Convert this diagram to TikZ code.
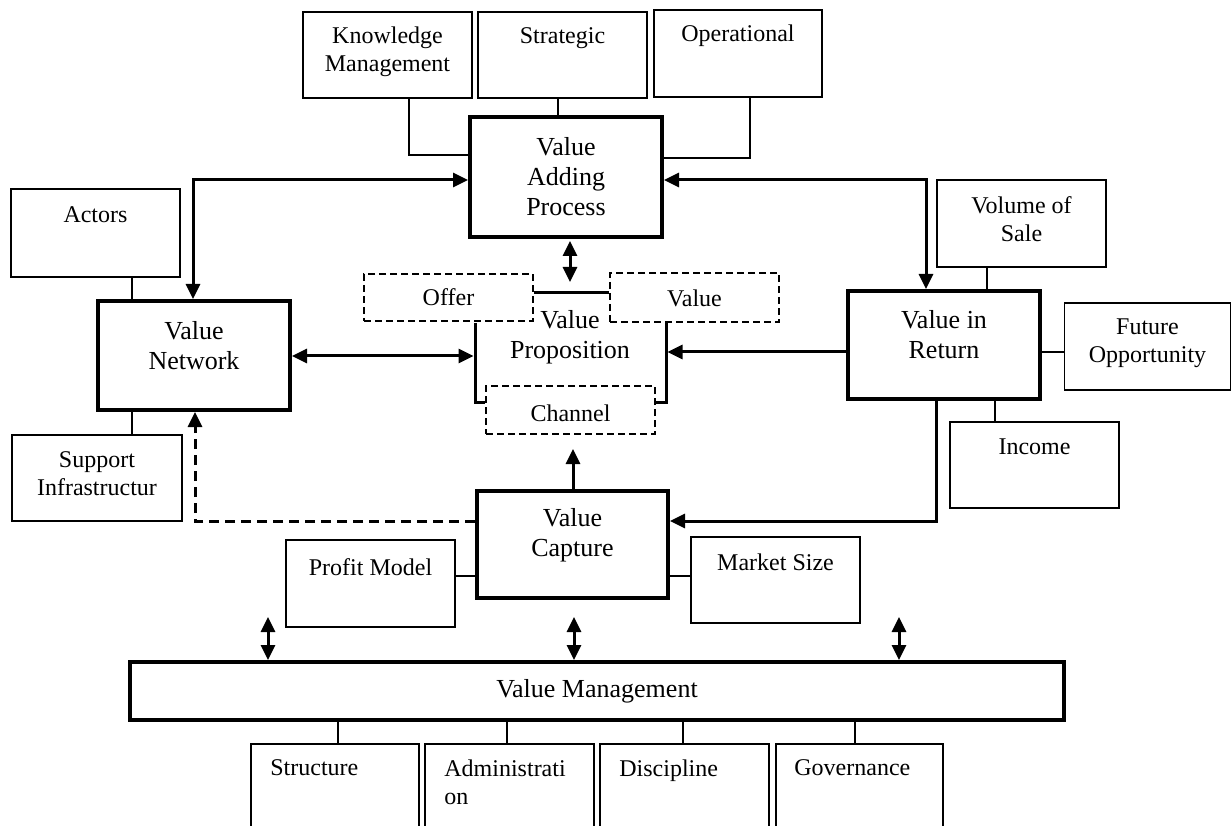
\documentclass[tikz,border=0pt]{standalone}
\usepackage{fontspec}
\setmainfont{Liberation Serif}
\usetikzlibrary{arrows.meta}
\begin{document}
\begin{tikzpicture}[x=1pt,y=-1pt,
  thinbox/.style={draw, line width=1.6pt, inner sep=0pt},
  thickbox/.style={draw, line width=4pt, inner sep=0pt},
  dbox/.style={draw, line width=1.5pt, dash pattern=on 7pt off 4pt, inner sep=0pt},
  conn/.style={line width=1.6pt},
  arr/.style={line width=3pt, -{Triangle[length=15pt,width=14pt]}},
  darr/.style={line width=3pt, {Triangle[length=15pt,width=14pt]}-{Triangle[length=15pt,width=14pt]}},
  sm/.style={font=\fontsize{24}{28}\selectfont, align=center, inner sep=0pt},
  bg/.style={font=\fontsize{26}{30}\selectfont, align=center, inner sep=0pt},
  lt/.style={font=\fontsize{24}{28}\selectfont, align=left, inner sep=0pt, anchor=north west},
]
\clip (0,0) rectangle (1232,826);
\fill[white] (0,0) rectangle (1232,826);

% top boxes
\node[thinbox, minimum width=169pt, minimum height=86pt, label={[sm,yshift=3pt]center:{Knowledge\\Management}}] (km) at (387.5,55) {};
\node[thinbox, minimum width=169pt, minimum height=86pt, label={[sm,yshift=17pt]center:{Strategic}}] (strat) at (562.5,55) {};
\node[thinbox, minimum width=168pt, minimum height=87pt, label={[sm,yshift=17.5pt]center:{Operational}}] (oper) at (738,53.5) {};
\node[thickbox, minimum width=192pt, minimum height=120pt, label={[bg,yshift=0pt]center:{Value\\Adding\\Process}}] (vap) at (566,177) {};

% left
\node[thinbox, minimum width=169pt, minimum height=88pt, label={[sm,yshift=18pt]center:{Actors}}] (actors) at (95.5,233) {};
\node[thickbox, minimum width=192pt, minimum height=109pt, label={[bg,yshift=9.5pt]center:{Value\\Network}}] (vn) at (194,355.5) {};
\node[thinbox, minimum width=170pt, minimum height=86pt, label={[sm,yshift=4pt]center:{Support\\Infrastructur}}] (supp) at (97,478) {};

% right
\node[thickbox, minimum width=192pt, minimum height=108pt, label={[bg,yshift=10pt]center:{Value in\\Return}}] (vir) at (944,345) {};
\node[thinbox, minimum width=169pt, minimum height=87pt, label={[sm,yshift=4.5pt]center:{Volume of\\Sale}}] (vol) at (1021.5,223.5) {};
\node[thinbox, minimum width=166pt, minimum height=87pt, label={[sm,yshift=3pt]center:{Future\\Opportunity}}] (fut) at (1147.5,346.5) {};
\node[thinbox, minimum width=169pt, minimum height=86pt, label={[sm,yshift=18pt]center:{Income}}] (inc) at (1034.5,465) {};

% value proposition
\node[dbox, minimum width=169pt, minimum height=47pt, label={[sm]center:{Offer}}] (offer) at (448.5,297.5) {};
\node[dbox, minimum width=169pt, minimum height=49pt, label={[sm,yshift=-1pt]center:{Value}}] (valbox) at (694.5,297.5) {};
\node[dbox, minimum width=169pt, minimum height=48pt, label={[sm,yshift=-3pt]center:{Channel}}] (chan) at (570.5,410) {};
\node[bg] (vp) at (570,337) {Value\\Proposition};
\draw[line width=3pt] (offer.east |- 0,293) -- (valbox.west |- 0,293);
\draw[line width=3pt] (475,323) -- (475,402) -- (chan.west |- 0,402);
\draw[line width=3pt] (666,323) -- (666,402) -- (chan.east |- 0,402);

% value capture
\node[thickbox, minimum width=191pt, minimum height=107pt, label={[bg,yshift=9pt]center:{Value\\Capture}}] (vc) at (572.5,544.5) {};
\node[thinbox, minimum width=169pt, minimum height=87pt, label={[sm,yshift=16.5pt]center:{Profit Model}}] (prof) at (370.5,583.5) {};
\node[thinbox, minimum width=169pt, minimum height=86pt, label={[sm,yshift=18pt]center:{Market Size}}] (mkt) at (775.5,580) {};

% value management
\node[thickbox, minimum width=934pt, minimum height=58pt, bg] (vm) at (597,691) {Value Management};
\node[thinbox, minimum width=168pt, minimum height=92pt] (st) at (335,790) {};
\node[thinbox, minimum width=169pt, minimum height=92pt] (ad) at (509.5,790) {};
\node[thinbox, minimum width=169pt, minimum height=92pt] (di) at (684.5,790) {};
\node[thinbox, minimum width=167pt, minimum height=92pt] (go) at (859.5,790) {};
\node[lt] at ([xshift=20pt,yshift=-16.5pt]st.north west) {Structure};
\node[lt] at ([xshift=20pt,yshift=-16.5pt]ad.north west) {Administrati\\on};
\node[lt] at ([xshift=20pt,yshift=-16.5pt]di.north west) {Discipline};
\node[lt] at ([xshift=19pt,yshift=-16.5pt]go.north west) {Governance};

% thin connectors
\draw[conn] ([xshift=21.5pt]km.south) |- ([yshift=22pt]vap.west);
\draw[conn] ([xshift=-4.5pt]strat.south) -- ([xshift=-4.5pt]strat.south |- vap.north);
\draw[conn] ([xshift=12pt]oper.south) |- ([yshift=19pt]vap.east);
\draw[conn] ([xshift=36.5pt]actors.south) -- ([xshift=36.5pt]actors.south |- vn.north);
\draw[conn] ([xshift=35pt]supp.north) -- ([xshift=35pt]supp.north |- vn.south);
\draw[conn] ([xshift=-34.5pt]vol.south) -- ([xshift=-34.5pt]vol.south |- vir.north);
\draw[conn] ([yshift=-5.5pt]fut.west) -- ([yshift=-5.5pt]fut.west -| vir.east);
\draw[conn] ([xshift=-39.5pt]inc.north) -- ([xshift=-39.5pt]inc.north |- vir.south);
\draw[conn] ([yshift=7.5pt]prof.east) -- ([yshift=7.5pt]prof.east -| vc.west);
\draw[conn] ([yshift=4pt]mkt.west) -- ([yshift=4pt]mkt.west -| vc.east);
\draw[conn] ([xshift=3pt]st.north) -- ([xshift=3pt]st.north |- vm.south);
\draw[conn] ([xshift=-2.5pt]ad.north) -- ([xshift=-2.5pt]ad.north |- vm.south);
\draw[conn] ([xshift=-1.5pt]di.north) -- ([xshift=-1.5pt]di.north |- vm.south);
\draw[conn] ([xshift=-4.5pt]go.north) -- ([xshift=-4.5pt]go.north |- vm.south);

% arrows
\coordinate (a1) at (193,180);
\coordinate (a2) at (926,180);
\draw[darr] (a1 -| vap.west) -- (a1) -- (a1 |- vn.north);
\draw[darr] (a2 -| vap.east) -- (a2) -- (a2 |- vir.north);
\coordinate (vapB) at (570,241);
\coordinate (vpT) at (570,282);
\draw[darr] (vapB) -- (vpT);
\coordinate (vpL) at (473.5,356);
\coordinate (vpR) at (667.5,352);
\draw[darr] (vn.east |- vpL) -- (vpL);
\draw[arr] (vpR -| vir.west) -- (vpR);
\coordinate (c3) at (936,521);
\draw[arr] (c3 |- vir.south) -- (c3) -- (c3 -| vc.east);
\coordinate (c4) at (195,521);
\draw[arr, dash pattern=on 10pt off 6pt] (c4 -| vc.west) -- (c4) -- (c4 |- vn.south);
\coordinate (c5) at (573,449);
\draw[arr] (c5 |- vc.north) -- (c5);
\coordinate (d1) at (268,617);
\coordinate (d2) at (574,617);
\coordinate (d3) at (899,617);
\draw[darr] (d1) -- (d1 |- vm.north);
\draw[darr] (d2) -- (d2 |- vm.north);
\draw[darr] (d3) -- (d3 |- vm.north);
\end{tikzpicture}
\end{document}
